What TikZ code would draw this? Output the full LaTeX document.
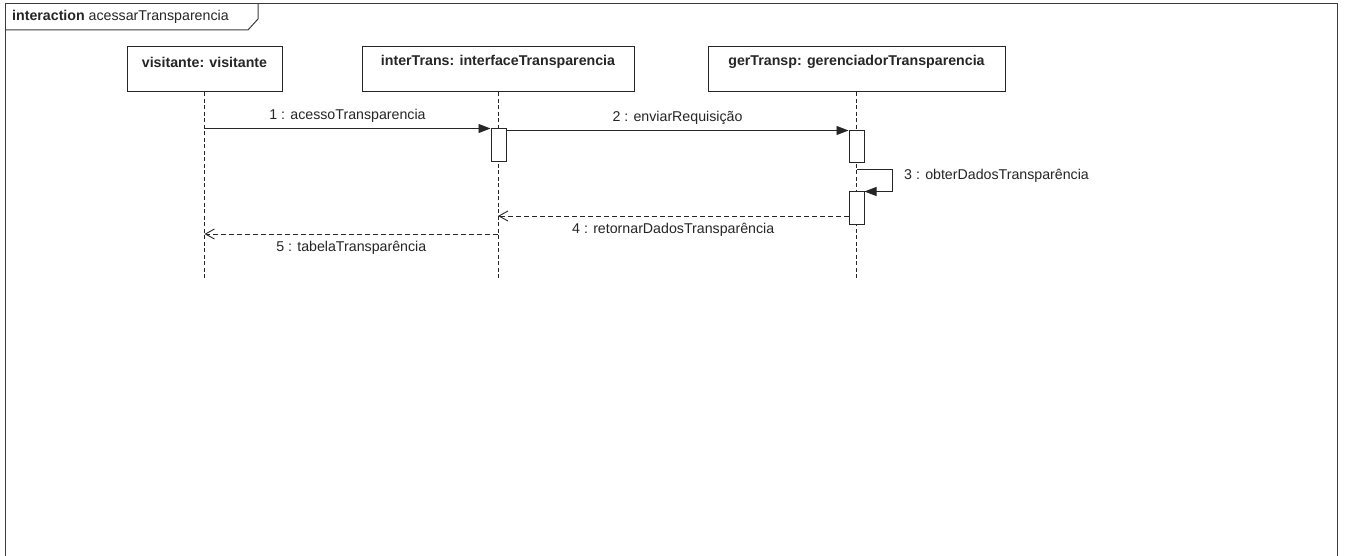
\documentclass[tikz,border=0pt]{standalone}
\usepackage{fontspec}
\setmainfont{Liberation Sans}
\usetikzlibrary{arrows.meta}
\definecolor{ink}{HTML}{262626}
\tikzset{
  x=1pt, y=-1pt,
  every node/.style={text=ink, font=\fontsize{14.2}{16}\selectfont},
  lifebox/.style={draw=ink, line width=1pt, fill=white, inner sep=0pt},
  boxlabel/.style={font=\fontsize{14.2}{16}\selectfont\bfseries, inner sep=0pt},
  actbox/.style={draw=ink, line width=1pt, fill=white, minimum width=15, minimum height=33, inner sep=0pt},
  lifeline/.style={draw=ink, line width=0.8pt, dash pattern=on 4pt off 2.5pt},
  sync/.style={draw=ink, line width=0.9pt, -{Triangle[length=12pt,width=9pt]}},
  reply/.style={draw=ink, line width=0.9pt, dash pattern=on 5pt off 3pt, -{Straight Barb[length=9pt,width=10pt]}},
  msglabel/.style={inner sep=0pt},
  frameline/.style={draw=ink!90, line width=1pt}
}
\begin{document}
\begin{tikzpicture}
\useasboundingbox (0,0) rectangle (1345,556);
\fill[white] (0,0) rectangle (1345,556);
% frame
\draw[frameline] (5,560) -- (5,4) -- (1337,4) -- (1337,560);
\draw[frameline] (5,30) -- (248,30) -- (258,19) -- (258,4);
\node[anchor=west, inner sep=0pt] (title) at (12,17) {\textbf{interaction} acessarTransparencia};
% lifeline heads
\node[lifebox, minimum width=155, minimum height=45] (v) at (204.5,69.5) {};
\node[lifebox, minimum width=272, minimum height=45] (i) at (498,69.5) {};
\node[lifebox, minimum width=297, minimum height=45] (g) at (856.5,69.5) {};
\node[boxlabel] (vl) at (204.5,62) {visitante: visitante};
\node[boxlabel] (il) at (498,62) {interTrans: interfaceTransparencia};
\node[boxlabel] (gl) at (856.5,62) {gerTransp: gerenciadorTransparencia};
% lifeline ends
\coordinate (ve) at (204.5,278);
\coordinate (ie) at (498,278);
\coordinate (ge) at (856.5,278);
\draw[lifeline] (v.south) -- (ve);
\draw[lifeline] (i.south) -- (ie);
\draw[lifeline] (g.south) -- (ge);
% activations
\node[actbox] (a1) at (498.5,145.5) {};
\node[actbox, minimum height=32] (a2) at (856.5,147) {};
\node[actbox] (a3) at (856.5,208.5) {};
% messages
\draw[sync] (v.south |- a1.north west) -- node[msglabel, above=6pt] {1 : acessoTransparencia} (a1.north west);
\draw[sync] (a1.north east |- a2.north west) -- node[msglabel, above=6pt] {2 : enviarRequisição} (a2.north west);
\coordinate (s1) at (856.5,169);
\coordinate (s2) at (892,169);
\draw[sync] (s1) -- (s2) |- (a3.north east);
\node[msglabel, anchor=west] (l3) at (904,176) {3 : obterDadosTransparência};
\coordinate (r4) at (498,216);
\draw[reply] (a3.west |- r4) -- node[msglabel, below=7pt] {4 : retornarDadosTransparência} (r4);
\coordinate (r5a) at (498,234);
\coordinate (r5b) at (204.5,234);
\draw[reply] (r5a) -- node[msglabel, below=7pt] {5 : tabelaTransparência} (r5b);
\end{tikzpicture}
\end{document}
